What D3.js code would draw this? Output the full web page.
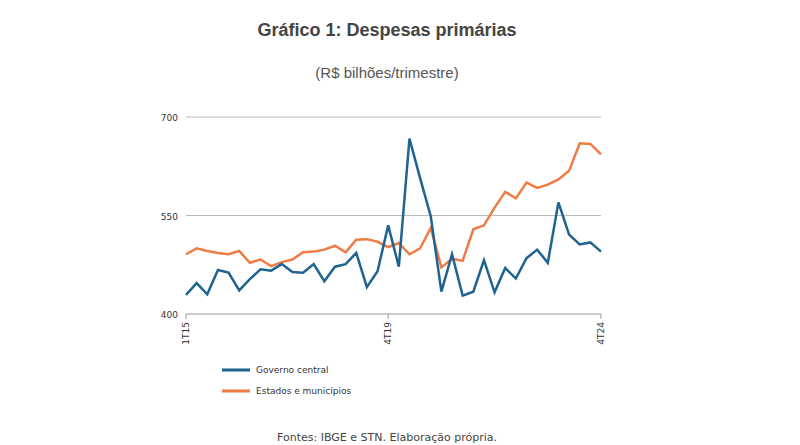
<!DOCTYPE html>
<html><head><meta charset="utf-8">
<script src="https://cdn.jsdelivr.net/npm/d3@7"></script>
<style>body{margin:0;background:#fff}</style></head>
<body><script>
const years = ["15","16","17","18","19","20","21","22","23","24"];
const quarters = [];
years.forEach(y => [1,2,3,4].forEach(q => quarters.push(q + "T" + y)));
const tickLabels = ["1T15","4T19","4T24"];
const yTicks = [400,550,700];
const governo = [429,447,430,467,463,436,453,468,466,476,464,463,476,450,472,476,493,441,465,535,472,667,607,549,434,491,428,434,482,433,470,454,485,498,478,570,521,506,509,495];
const estados = [491,500,496,493,491,496,478,483,473,479,483,494,495,498,504,494,513,514,510,502,508,491,500,531,471,484,481,529,535,562,586,576,600,592,597,605,618,660,659,643];

const svg = d3.select("body").append("svg").attr("width",800).attr("height",445);

svg.append("text").attr("x",387).attr("y",36).attr("text-anchor","middle")
  .style("font-family","Liberation Sans, Arial").style("font-weight","bold").style("font-size","18px")
  .attr("fill","#444").text("Gráfico 1: Despesas primárias");
svg.append("text").attr("x",387).attr("y",78).attr("text-anchor","middle")
  .style("font-family","Liberation Sans, Arial").style("font-size","15px")
  .attr("fill","#555").text("(R$ bilhões/trimestre)");

const x = d3.scalePoint().domain(quarters).range([186,601]);
const y = d3.scaleLinear().domain([400,700]).range([314,117]);

// grade
svg.append("g").selectAll("line").data(yTicks.slice(1)).join("line")
  .attr("x1",186).attr("x2",601).attr("y1",d=>y(d)).attr("y2",d=>y(d))
  .attr("stroke","#bbb").attr("stroke-width",1);
svg.append("line").attr("x1",186).attr("x2",601).attr("y1",y(400)).attr("y2",y(400))
  .attr("stroke","#999");

svg.append("g").selectAll("text").data(yTicks).join("text")
  .attr("x",178).attr("y",d=>y(d)+4).attr("text-anchor","end")
  .style("font-family","DejaVu Sans").style("font-size","9px").attr("fill","#333").text(d=>d);

svg.append("g").selectAll("line").data(tickLabels).join("line")
  .attr("x1",d=>x(d)).attr("x2",d=>x(d)).attr("y1",314).attr("y2",319).attr("stroke","#999");
svg.append("g").selectAll("text").data(tickLabels).join("text")
  .attr("transform",d=>`translate(${x(d)+3},322) rotate(-90)`).attr("text-anchor","end")
  .style("font-family","DejaVu Sans").style("font-size","9px").attr("fill","#333").text(d=>d);

const line = d3.line().x((d,i)=>x(quarters[i])).y(d=>y(d));
svg.append("path").datum(estados).attr("d",line).attr("fill","none")
  .attr("stroke","#ef7b45").attr("stroke-width",2.5);
svg.append("path").datum(governo).attr("d",line).attr("fill","none")
  .attr("stroke","#1f6391").attr("stroke-width",2.5);

const legend = [["Governo central","#1f6391"],["Estados e municípios","#ef7b45"]];
const lg = svg.append("g").selectAll("g").data(legend).join("g")
  .attr("transform",(d,i)=>`translate(222,${370+i*21})`);
lg.append("line").attr("x1",0).attr("x2",28).attr("stroke",d=>d[1]).attr("stroke-width",3);
lg.append("text").attr("x",34).attr("y",3).style("font-family","DejaVu Sans").style("font-size","9px")
  .attr("fill","#333").text(d=>d[0]);

svg.append("text").attr("x",387).attr("y",441).attr("text-anchor","middle")
  .style("font-family","DejaVu Sans").style("font-size","11px").attr("fill","#444")
  .text("Fontes: IBGE e STN. Elaboração própria.");
</script></body></html>
